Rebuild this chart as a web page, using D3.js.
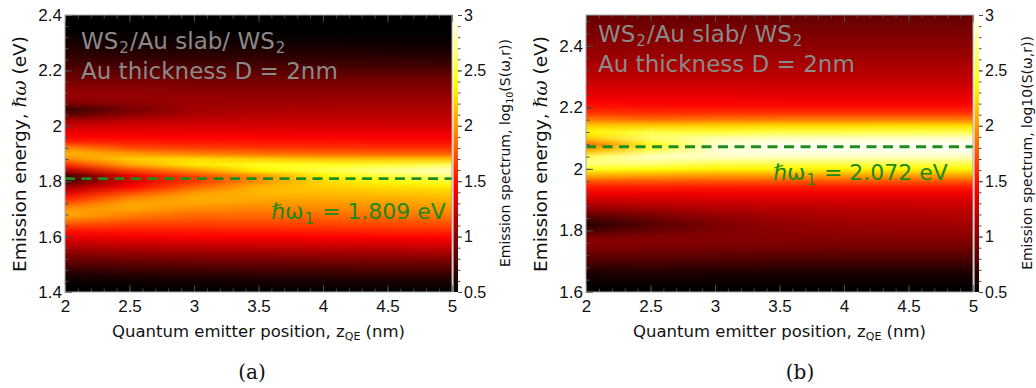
<!DOCTYPE html>
<html lang="en">
<head>
<meta charset="UTF-8">
<title>Emission spectra WS2/Au slab/WS2</title>
<script src="https://d3js.org/d3.v7.min.js"></script>
<style>
  * { margin: 0; padding: 0; box-sizing: border-box; }
  body { background: #fff; width: 1036px; height: 388px; overflow: hidden; }
  svg { font-family: "DejaVu Sans", sans-serif; }
  .tick line { stroke: #4a4a4a; }
  .tick text { fill: #111; }
  .note { fill: #8a8a8a; font-size: 23px; }
  .omega { fill: #1a8a1a; font-size: 22px; }
</style>
</head>
<body>
<svg id="chart" width="1036" height="388"></svg>
<script>
// quantum emitter positions (nm), columns of both maps
const zPos = [2, 2.5, 3, 3.5, 4, 4.5, 5];

// panel (a): energies 1.40 .. 2.40 eV, step 0.02 ; values are log10(S)
const energyA = d3.range(140, 241, 2).map(d => d / 100);
const specA_z2   = [0.45,0.5,0.55,0.6,0.7,0.8,0.9,1.0,1.12,1.24, 1.36,1.5,1.68,1.9,2.06,1.98,1.78,1.55,1.32,1.1, 0.78,0.75,1.2,1.6,1.95,2.1,1.95,1.6,1.45,1.35, 1.25,1.1,0.85,0.72,0.95,1.05,1.05,1.0,0.94,0.88, 0.82,0.76,0.71,0.66,0.62,0.58,0.55,0.52,0.5,0.48, 0.45];
const specA_z25  = [0.46,0.52,0.57,0.63,0.73,0.83,0.93,1.04,1.16,1.28, 1.4,1.52,1.64,1.78,1.92,2.04,2.05,1.92,1.7,1.45, 1.3,1.38,1.7,2.05,2.2,2.0,1.72,1.55,1.44,1.36, 1.28,1.18,1.02,0.95,1.02,1.05,1.04,1.0,0.94,0.88, 0.82,0.76,0.7,0.65,0.61,0.57,0.54,0.51,0.49,0.47, 0.45];
const specA_z3   = [0.47,0.53,0.58,0.65,0.75,0.85,0.95,1.06,1.18,1.3, 1.42,1.53,1.64,1.74,1.84,1.94,2.04,2.08,2.0,1.8, 1.65,1.7,2.0,2.3,2.25,1.9,1.68,1.53,1.43,1.36, 1.29,1.22,1.14,1.1,1.08,1.06,1.03,0.99,0.94,0.88, 0.82,0.76,0.7,0.65,0.61,0.57,0.54,0.51,0.49,0.47, 0.45];
const specA_z35  = [0.47,0.54,0.59,0.66,0.76,0.86,0.96,1.07,1.19,1.31, 1.43,1.54,1.65,1.75,1.84,1.92,2.0,2.07,2.12,2.1, 1.98,2.0,2.35,2.45,2.2,1.85,1.65,1.52,1.43,1.36, 1.29,1.23,1.17,1.13,1.09,1.06,1.03,0.99,0.94,0.88, 0.82,0.76,0.7,0.65,0.6,0.56,0.53,0.51,0.49,0.47, 0.45];
const specA_z4   = [0.48,0.54,0.6,0.67,0.77,0.87,0.97,1.08,1.2,1.32, 1.44,1.55,1.66,1.76,1.85,1.93,2.0,2.07,2.14,2.2, 2.25,2.35,2.55,2.45,2.15,1.82,1.63,1.51,1.42,1.35, 1.29,1.23,1.18,1.14,1.1,1.06,1.02,0.98,0.93,0.87, 0.81,0.75,0.69,0.64,0.6,0.56,0.53,0.5,0.48,0.46, 0.45];
const specA_z45  = [0.48,0.55,0.6,0.68,0.78,0.88,0.98,1.09,1.21,1.33, 1.45,1.57,1.68,1.78,1.87,1.95,2.02,2.09,2.17,2.26, 2.4,2.55,2.72,2.5,2.15,1.8,1.62,1.5,1.42,1.35, 1.28,1.23,1.18,1.14,1.1,1.06,1.02,0.98,0.93,0.87, 0.8,0.74,0.68,0.63,0.59,0.55,0.52,0.5,0.48,0.46, 0.45];
const specA_z5   = [0.48,0.55,0.6,0.68,0.78,0.88,0.98,1.1,1.22,1.34, 1.46,1.58,1.7,1.8,1.9,1.98,2.05,2.12,2.2,2.3, 2.5,2.7,2.85,2.6,2.15,1.8,1.62,1.5,1.42,1.35, 1.28,1.23,1.18,1.14,1.1,1.06,1.02,0.98,0.93,0.87, 0.8,0.73,0.67,0.62,0.58,0.55,0.52,0.5,0.48,0.46, 0.45];

// panel (b): energies 1.60 .. 2.50 eV, step 0.02
const energyB = d3.range(160, 251, 2).map(d => d / 100);
const specB_z2   = [0.48,0.52,0.56,0.6,0.68,0.78,0.86,0.95,1.0,0.95, 0.78,0.65,0.78,0.95,1.12,1.25,1.38,1.52,1.75,2.1, 2.45,2.7,2.6,2.1,1.85,2.2,2.35,2.2,1.9,1.65, 1.52,1.42,1.35,1.3,1.25,1.2,1.16,1.12,1.08,1.05, 1.02,0.99,0.96,0.93,0.9,0.88];
const specB_z25  = [0.48,0.52,0.56,0.61,0.69,0.78,0.86,0.94,0.99,0.98, 0.88,0.82,0.9,1.02,1.15,1.27,1.39,1.53,1.75,2.05, 2.4,2.7,2.85,2.6,2.45,2.65,2.55,2.2,1.85,1.62, 1.5,1.41,1.35,1.3,1.25,1.2,1.16,1.12,1.08,1.05, 1.02,0.99,0.96,0.93,0.9,0.88];
const specB_z3   = [0.48,0.52,0.56,0.6,0.68,0.77,0.85,0.92,0.97,0.99, 0.97,0.96,1.02,1.1,1.19,1.28,1.39,1.53,1.74,2.02, 2.33,2.6,2.85,2.9,2.88,2.8,2.5,2.22,1.88,1.64, 1.5,1.41,1.35,1.3,1.25,1.2,1.16,1.12,1.08,1.05, 1.02,0.99,0.96,0.93,0.9,0.88];
const specB_z35  = [0.48,0.52,0.56,0.6,0.67,0.76,0.84,0.91,0.97,1.0, 1.02,1.04,1.09,1.14,1.21,1.29,1.39,1.52,1.74,2.04, 2.35,2.6,2.85,2.95,2.96,2.85,2.55,2.25,1.9,1.65, 1.5,1.4,1.34,1.29,1.24,1.2,1.16,1.12,1.08,1.05, 1.02,0.99,0.96,0.93,0.9,0.87];
const specB_z4   = [0.48,0.52,0.56,0.6,0.67,0.76,0.83,0.9,0.96,1.0, 1.04,1.07,1.11,1.16,1.22,1.29,1.38,1.52,1.75,2.05, 2.35,2.6,2.85,2.95,2.97,2.85,2.55,2.25,1.9,1.65, 1.5,1.4,1.34,1.29,1.24,1.2,1.16,1.12,1.08,1.05, 1.02,0.99,0.96,0.93,0.9,0.87];
const specB_z45  = [0.48,0.52,0.56,0.6,0.67,0.76,0.83,0.9,0.96,1.01, 1.05,1.09,1.13,1.17,1.23,1.29,1.38,1.52,1.75,2.05, 2.35,2.6,2.85,2.95,2.97,2.86,2.56,2.26,1.9,1.65, 1.5,1.4,1.34,1.29,1.24,1.2,1.16,1.12,1.08,1.05, 1.02,0.99,0.96,0.93,0.9,0.87];
const specB_z5   = [0.48,0.52,0.56,0.6,0.67,0.76,0.83,0.9,0.96,1.01, 1.06,1.1,1.14,1.18,1.23,1.29,1.38,1.52,1.75,2.05, 2.35,2.6,2.85,2.95,2.98,2.87,2.57,2.27,1.9,1.65, 1.5,1.4,1.34,1.29,1.24,1.2,1.16,1.12,1.08,1.05, 1.02,0.99,0.96,0.93,0.9,0.87];

// resonance lines
const omegaA = 1.809;
const omegaB = 2.072;

// ticks
const xTicks = [2, 2.5, 3, 3.5, 4, 4.5, 5];
const yTicksA = [1.4, 1.6, 1.8, 2, 2.2, 2.4];
const yTicksB = [1.6, 1.8, 2, 2.2, 2.4];
const cTicks = [0.5, 1, 1.5, 2, 2.5, 3];

// "hot" colour map on 0.5 .. 3
const color = d3.scaleLinear()
    .domain([0.5, 1.4375, 2.375, 3])
    .range(["#000000", "#ff0000", "#ffff00", "#ffffff"])
    .clamp(true);

const svg = d3.select("#chart");
const fmt = d3.format("~g");
const plotTop = 15, plotBottom = 292;

const panels = [
    { left: 65, right: 452, energy: energyA, cols: [specA_z2, specA_z25, specA_z3, specA_z35, specA_z4, specA_z45, specA_z5],
      yDom: [1.4, 2.4], yTicks: yTicksA, yMinor: d3.range(140, 241, 4).map(d => d / 100),
      omega: omegaA, omegaPos: [271, 219], notePos: [81, 49, 79], sub10: true, letter: "(a)", letterX: 252, cbLabelX: 505 },
    { left: 586, right: 973, energy: energyB, cols: [specB_z2, specB_z25, specB_z3, specB_z35, specB_z4, specB_z45, specB_z5],
      yDom: [1.6, 2.5], yTicks: yTicksB, yMinor: d3.range(160, 251, 4).map(d => d / 100),
      omega: omegaB, omegaPos: [773, 180], notePos: [598, 42, 72], sub10: false, letter: "(b)", letterX: 800, cbLabelX: 1027 }
];

const defs = svg.append("defs");

// colourbar gradient (shared)
const grad = defs.append("linearGradient").attr("id", "cbGrad")
    .attr("x1", 0).attr("y1", 1).attr("x2", 0).attr("y2", 0);
d3.range(0, 51).forEach(i => {
    const v = 0.5 + 2.5 * i / 50;
    grad.append("stop").attr("offset", (i / 50 * 100) + "%").attr("stop-color", color(v));
});

function heatImage(energy, cols) {
    const cv = document.createElement("canvas");
    cv.width = cols.length;
    cv.height = energy.length;
    const ctx = cv.getContext("2d");
    cols.forEach((col, i) => {
        col.forEach((v, k) => {
            ctx.fillStyle = color(v);
            ctx.fillRect(i, energy.length - 1 - k, 1, 1);
        });
    });
    return cv.toDataURL();
}

panels.forEach((p, idx) => {
    const x = d3.scaleLinear().domain([2, 5]).range([p.left, p.right]);
    const y = d3.scaleLinear().domain(p.yDom).range([plotBottom, plotTop]);
    const g = svg.append("g");

    defs.append("clipPath").attr("id", "clip" + idx)
        .append("rect").attr("x", p.left).attr("y", plotTop)
        .attr("width", p.right - p.left).attr("height", plotBottom - plotTop);

    // heat map: one pixel per data cell, smoothed by the browser when stretched
    const dz = zPos[1] - zPos[0];
    const dE = p.energy[1] - p.energy[0];
    const eMin = p.energy[0], eMax = p.energy[p.energy.length - 1];
    g.append("image")
        .attr("href", heatImage(p.energy, p.cols))
        .attr("preserveAspectRatio", "none")
        .attr("x", x(zPos[0] - dz / 2))
        .attr("width", x(zPos[zPos.length - 1] + dz / 2) - x(zPos[0] - dz / 2))
        .attr("y", y(eMax + dE / 2))
        .attr("height", y(eMin - dE / 2) - y(eMax + dE / 2))
        .attr("clip-path", `url(#clip${idx})`);

    // resonance line
    g.append("line")
        .attr("x1", p.left).attr("x2", p.right)
        .attr("y1", y(p.omega)).attr("y2", y(p.omega))
        .attr("stroke", "#1f8c1f").attr("stroke-width", 2.8)
        .attr("stroke-dasharray", "10,6.5");

    // frame ticks (inside)
    g.append("g").attr("transform", `translate(${p.left},0)`)
        .call(d3.axisLeft(y).tickValues(p.yMinor).tickSize(-3.5).tickFormat(""))
        .call(a => a.select(".domain").remove());
    g.append("g").attr("transform", `translate(${p.left},0)`)
        .call(d3.axisLeft(y).tickValues(p.yTicks).tickSize(-7).tickPadding(3).tickFormat(fmt))
        .call(a => a.select(".domain").remove())
        .call(a => a.selectAll("text").style("font-size", "17px"));
    g.append("g").attr("transform", `translate(0,${plotBottom})`)
        .call(d3.axisBottom(x).tickValues(d3.range(20, 51).map(d => d / 10)).tickSize(-3.5).tickFormat(""))
        .call(a => a.select(".domain").remove());
    g.append("g").attr("transform", `translate(0,${plotBottom})`)
        .call(d3.axisBottom(x).tickValues(xTicks).tickSize(-7).tickPadding(8).tickFormat(fmt))
        .call(a => a.select(".domain").remove())
        .call(a => a.selectAll("text").style("font-size", "17px"));
    g.append("g").attr("transform", `translate(0,${plotTop})`)
        .call(d3.axisTop(x).tickValues(d3.range(20, 51).map(d => d / 10)).tickSize(-3.5).tickFormat(""))
        .call(a => a.select(".domain").remove());
    g.append("g").attr("transform", `translate(0,${plotTop})`)
        .call(d3.axisTop(x).tickValues(xTicks).tickSize(-7).tickFormat(""))
        .call(a => a.select(".domain").remove());

    g.append("rect")
        .attr("x", p.left).attr("y", plotTop)
        .attr("width", p.right - p.left).attr("height", plotBottom - plotTop)
        .attr("fill", "none").attr("stroke", "#a8a8a8").attr("stroke-width", 1);

    // colourbar
    const cb0 = p.right + 1.5, cbW = 4.5;
    const c = d3.scaleLinear().domain([0.5, 3]).range([plotBottom, plotTop]);
    g.append("rect").attr("x", cb0).attr("y", plotTop)
        .attr("width", cbW).attr("height", plotBottom - plotTop)
        .attr("fill", "url(#cbGrad)");
    g.append("g").attr("transform", `translate(${cb0 + cbW},0)`)
        .call(d3.axisRight(c).tickValues(d3.range(5, 31).map(d => d / 10)).tickSize(2.5).tickFormat(""))
        .call(a => a.select(".domain").remove());
    g.append("g").attr("transform", `translate(${cb0 + cbW},0)`)
        .call(d3.axisRight(c).tickValues(cTicks).tickSize(4).tickPadding(2).tickFormat(fmt))
        .call(a => a.select(".domain").remove())
        .call(a => a.selectAll("text").style("font-size", "16px"));

    const cbl = g.append("text")
        .attr("transform", `translate(${p.cbLabelX},${153}) rotate(-90)`)
        .attr("text-anchor", "middle")
        .attr("dy", "0.35em")
        .style("font-size", "14px").attr("fill", "#111");
    if (p.sub10) {
        cbl.append("tspan").text("Emission spectrum, log");
        cbl.append("tspan").attr("dy", 3).style("font-size", "9.5px").text("10");
        cbl.append("tspan").attr("dy", -3).text("(S(ω,r))");
    } else {
        cbl.text("Emission spectrum, log10(S(ω,r))");
    }

    // annotations (one text per line, subscripts as shifted tspans)
    const n1 = g.append("text").attr("class", "note").attr("x", p.notePos[0]).attr("y", p.notePos[1]);
    n1.append("tspan").text("WS");
    n1.append("tspan").attr("dx", 1).attr("dy", 4).style("font-size", "15px").text("2");
    n1.append("tspan").attr("dx", 1).attr("dy", -4).text("/Au slab/ WS");
    n1.append("tspan").attr("dx", 1).attr("dy", 4).style("font-size", "15px").text("2");
    g.append("text").attr("class", "note").attr("x", p.notePos[0]).attr("y", p.notePos[2])
        .text("Au thickness D = 2nm");

    const om = g.append("text").attr("class", "omega").attr("x", p.omegaPos[0]).attr("y", p.omegaPos[1]);
    om.append("tspan").text("ℏω");
    om.append("tspan").attr("dx", 1).attr("dy", 5).style("font-size", "15px").text("1");
    om.append("tspan").attr("dx", 1).attr("dy", -5).text(` = ${p.omega.toFixed(3)} eV`);

    // axis titles
    const yl = g.append("text")
        .attr("transform", `translate(${p.left - 45},${154}) rotate(-90)`)
        .attr("text-anchor", "middle").attr("dy", "0.35em")
        .style("font-size", "18.5px").attr("fill", "#111");
    yl.append("tspan").text("Emission energy, ");
    yl.append("tspan").style("font-family", "'DejaVu Serif', serif").style("font-style", "italic").text("ℏω");
    yl.append("tspan").text(" (eV)");

    const xl = g.append("text")
        .attr("x", (p.left + p.right) / 2).attr("y", 337)
        .attr("text-anchor", "middle")
        .style("font-size", "16.5px").attr("fill", "#111");
    xl.append("tspan").text("Quantum emitter position, z");
    xl.append("tspan").attr("dy", 3).style("font-size", "11px").text("QE");
    xl.append("tspan").attr("dy", -3).text(" (nm)");

    svg.append("text")
        .attr("x", p.letterX).attr("y", 379)
        .attr("text-anchor", "middle")
        .style("font-family", "'DejaVu Serif', 'Liberation Serif', serif")
        .style("font-size", "20px").attr("fill", "#111")
        .text(p.letter);
});
</script>
</body>
</html>
